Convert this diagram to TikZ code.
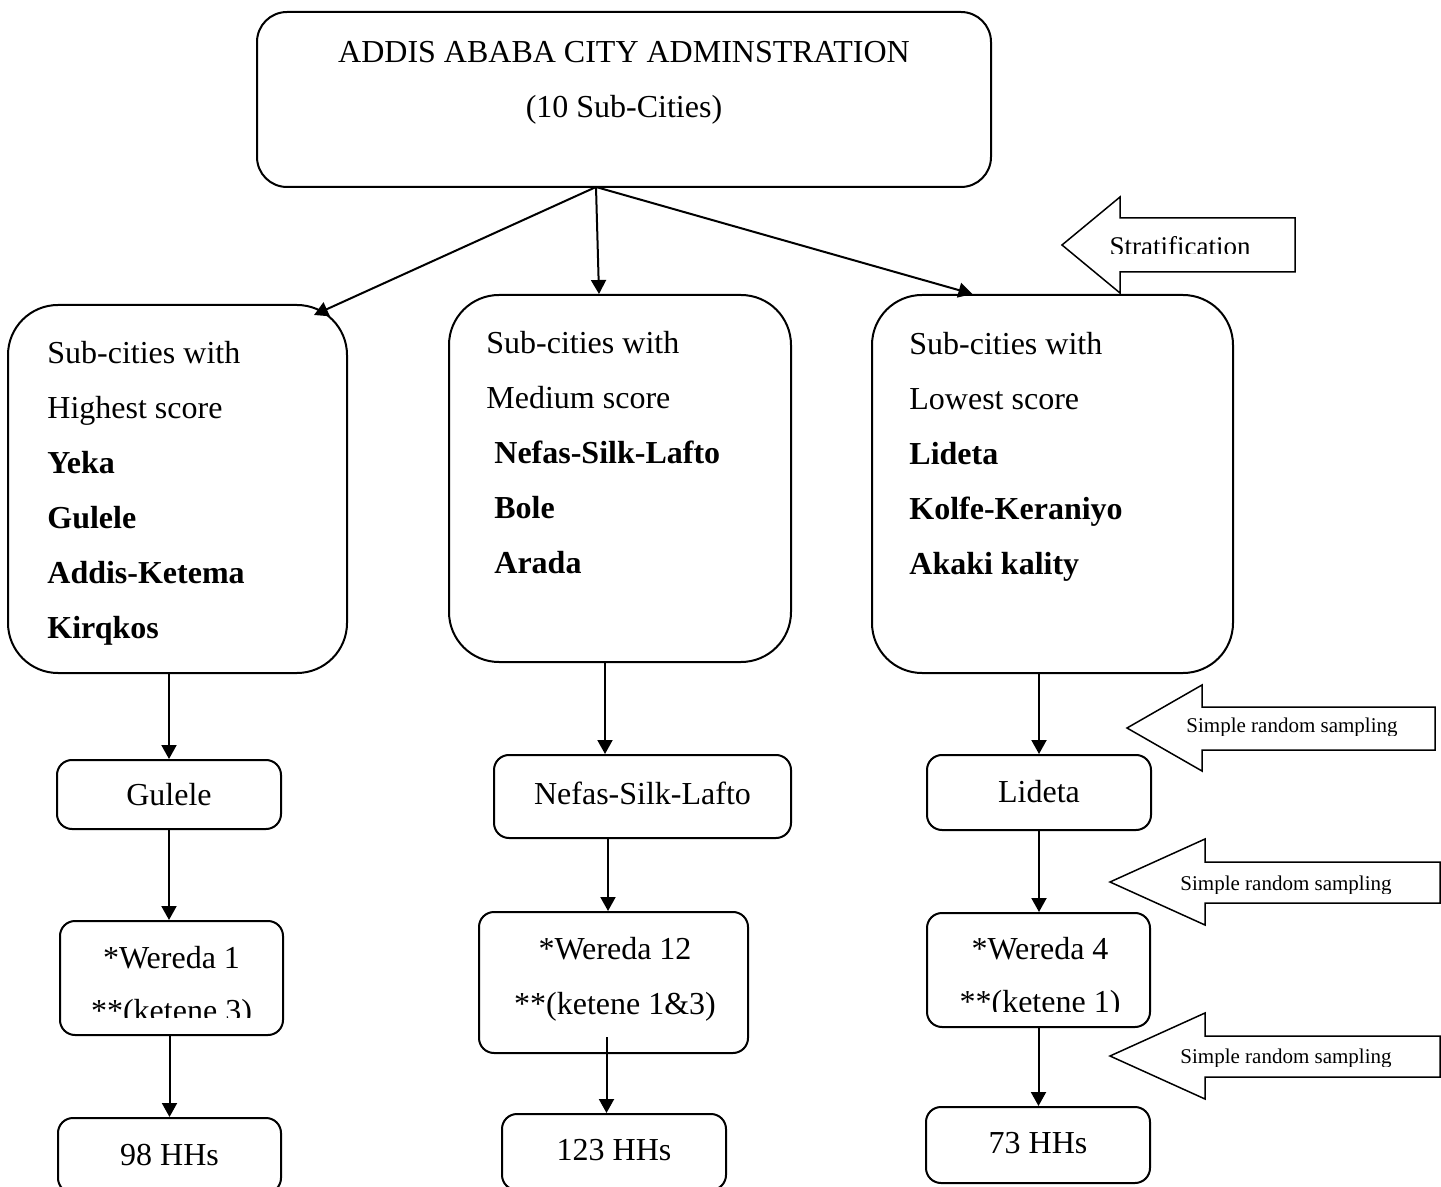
\documentclass[tikz,border=0pt]{standalone}
\usepackage{fontspec}
\setmainfont{Liberation Serif}
\usetikzlibrary{arrows.meta}

\tikzset{
  box/.style={draw, line width=1pt, rounded corners=7.5pt, inner sep=0pt, align=center, font=\fontsize{16}{26.5}\selectfont},
  bigbox/.style={draw, line width=1pt, rounded corners=25pt, inner sep=0pt},
  listtext/.style={anchor=north west, inner sep=0pt, align=left, font=\fontsize{16}{27.5}\selectfont},
  boxtext/.style={anchor=north, inner sep=0pt, align=center, font=\fontsize{16}{26.5}\selectfont},
  arr/.style={line width=1pt, -{Triangle[length=7pt,width=7.5pt]}},
  blockarrow/.style={draw, line width=0.75pt},
  blocktext/.style={inner sep=0pt, font=\fontsize{10.5}{12}\selectfont},
}

\begin{document}
\begin{tikzpicture}[x=0.5pt,y=-0.5pt]
  \useasboundingbox (0,0) rectangle (1441,1187);
  %% City administration
  \node[box, rounded corners=15pt, minimum width=367pt, minimum height=87.5pt] (city) at (624,99.5) {};
  \node[listtext, anchor=north, align=center] (cityT) at (624,41) {ADDIS ABABA CITY ADMINSTRATION\\(10 Sub-Cities)};
  %% Strata
  \node[bigbox, minimum width=169.5pt, minimum height=184pt] (high) at (177.5,489) {};
  \node[listtext] (highT) at (47,341) {Sub-cities with\\Highest score\\\textbf{Yeka}\\\textbf{Gulele}\\\textbf{Addis-Ketema}\\\textbf{Kirqkos}};
  \node[bigbox, minimum width=171pt, minimum height=183.5pt] (med) at (620,478.5) {};
  \node[listtext] (medT) at (486,331) {Sub-cities with\\Medium score\\\hspace*{4pt}\textbf{Nefas-Silk-Lafto}\\\hspace*{4pt}\textbf{Bole}\\\hspace*{4pt}\textbf{Arada}};
  \node[bigbox, minimum width=180.5pt, minimum height=189pt] (low) at (1052.5,484) {};
  \node[listtext] (lowT) at (909,332) {Sub-cities with\\Lowest score\\\textbf{Lideta}\\\textbf{Kolfe-Keraniyo}\\\textbf{Akaki kality}};
  %% Selected sub-cities
  \node[box, minimum width=112pt, minimum height=34.5pt] (gul) at (169,794.5) {Gulele};
  \node[box, minimum width=148.5pt, minimum height=41.5pt] (nsl) at (642.5,796.5) {\raisebox{3pt}{Nefas-Silk-Lafto}};
  \node[box, minimum width=112pt, minimum height=37.5pt] (lid) at (1039,792.5) {\raisebox{1.5pt}{Lideta}};
  %% Weredas
  \node[box, minimum width=111.5pt, minimum height=57pt] (w1) at (171.5,978) {};
  \node[box, minimum width=134.5pt, minimum height=70.5pt] (w12) at (613.5,982.5) {};
  \node[box, minimum width=111.5pt, minimum height=57pt] (w4) at (1038.5,970) {};
  \begin{scope}
    \clip (60,921) rectangle (283,1017);
    \node[boxtext] (w1T) at (171.5,946) {*Wereda 1\\**(ketene 3)};
  \end{scope}
  \node[boxtext, font=\fontsize{16}{27.5}\selectfont] (w12T) at (615,937) {*Wereda 12\\**(ketene 1\&3)};
  \begin{scope}
    \clip (927,913) rectangle (1150,1011);
    \node[boxtext] (w4T) at (1040,937) {*Wereda 4\\**(ketene 1)};
  \end{scope}
  %% Households
  \node[box, minimum width=111.5pt, minimum height=37.5pt] (hh98) at (169.5,1155.5) {98 HHs};
  \node[box, minimum width=112pt, minimum height=38pt] (hh123) at (614,1152) {\raisebox{2pt}{123 HHs}};
  \node[box, minimum width=112pt, minimum height=38pt] (hh73) at (1038,1145) {\raisebox{2pt}{73 HHs}};
  %% Connectors
  \coordinate (fork) at (596,187);
  \draw[arr] (fork) -- ([xshift=-17pt,yshift=-5.5pt]high.north east);
  \draw[arr] (fork) -- ([xshift=-10.5pt]med.north);
  \draw[arr] (fork) -- ([xshift=-40pt]low.north);
  \draw[arr] (gul.north |- high.south) -- (gul.north);
  \draw[arr] ([xshift=-7.5pt]med.south) -- ([xshift=-7.5pt]med.south |- nsl.north);
  \draw[arr] (lid.north |- low.south) -- (lid.north);
  \draw[arr] (gul.south) -- (gul.south |- w1.north);
  \draw[arr] ([xshift=-2.75pt]w12.north |- nsl.south) -- ([xshift=-2.75pt]w12.north);
  \draw[arr] (lid.south) -- (lid.south |- w4.north);
  \draw[arr] (hh98.north |- w1.south) -- (hh98.north);
  \draw[arr] ([xshift=-3.5pt,yshift=8.5pt]w12.south) -- ([xshift=-3.5pt]w12.south |- hh123.north);
  \draw[arr] (w4.south) -- (w4.south |- hh73.north);
  %% Sampling steps
  \draw[blockarrow] (1062,245) -- (1120,197) -- (1120,218) -- (1295,218) -- (1295,272) -- (1120,272) -- (1120,293) -- cycle;
  \begin{scope}
    \clip (1062,218) rectangle (1295,254);
    \node[blocktext, font=\fontsize{13.5}{15}\selectfont] (strat) at (1180,246) {Stratification};
  \end{scope}
  \draw[blockarrow] (1127,728) -- (1202,685) -- (1202,707) -- (1435,707) -- (1435,750) -- (1202,750) -- (1202,771) -- cycle;
  \begin{scope}
    \clip (1127,707) rectangle (1435,735);
    \node[blocktext] (srs1) at (1292,727) {Simple random sampling};
  \end{scope}
  \draw[blockarrow] (1110,882) -- (1205,839) -- (1205,862) -- (1440,862) -- (1440,903) -- (1205,903) -- (1205,925) -- cycle;
  \begin{scope}
    \clip (1110,862) rectangle (1440,893);
    \node[blocktext] (srs2) at (1286,885) {Simple random sampling};
  \end{scope}
  \draw[blockarrow] (1110,1056) -- (1205,1013) -- (1205,1036) -- (1440,1036) -- (1440,1077) -- (1205,1077) -- (1205,1099) -- cycle;
  \begin{scope}
    \clip (1110,1036) rectangle (1440,1066);
    \node[blocktext] (srs3) at (1286,1058) {Simple random sampling};
  \end{scope}
\end{tikzpicture}
\end{document}
